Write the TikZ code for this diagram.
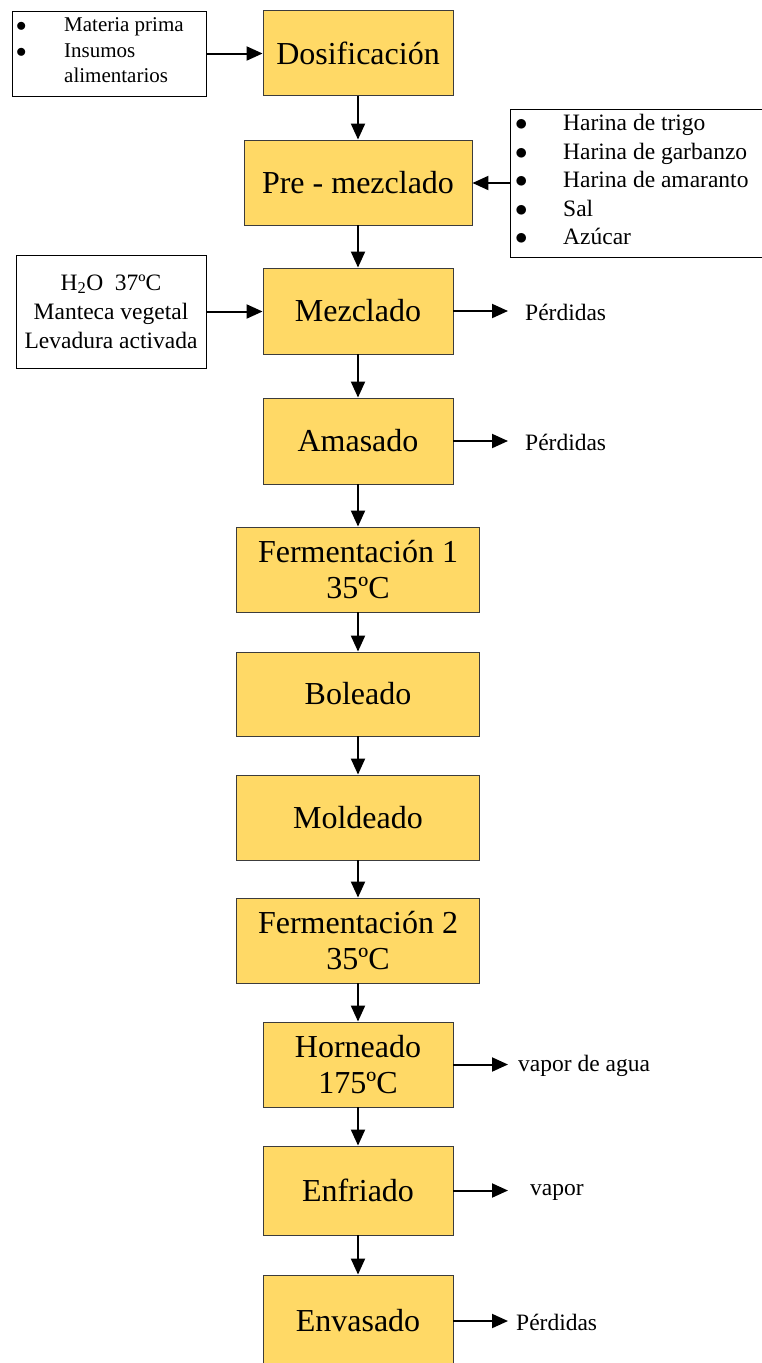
\documentclass[tikz,border=0pt]{standalone}
\usepackage{fontspec}
\setmainfont{Liberation Serif}
\usetikzlibrary{arrows.meta}
\definecolor{stepfill}{RGB}{255,217,102}
\definecolor{stepline}{RGB}{60,60,60}
\newcommand{\listdot}{$\bullet$}

\begin{document}
\begin{tikzpicture}[x=1pt,y=-1pt,
  proc/.style={draw=stepline, fill=stepfill, line width=0.9pt, align=center,
    inner sep=0pt, font=\fontsize{32}{36}\selectfont},
  narrowbox/.style={proc, minimum width=190pt, minimum height=85pt},
  widebox/.style={proc, minimum width=243pt, minimum height=85pt},
  inbox/.style={draw=black, fill=white, line width=0.9pt, inner sep=0pt},
  flow/.style={-{Triangle[length=16pt,width=14pt]}, line width=2pt},
  sidelbl/.style={anchor=west, inner sep=0pt, font=\fontsize{23.5}{26}\selectfont},
]
\useasboundingbox (0,0) rectangle (762,1363);

% main process column
\node[narrowbox] (dos) at (358,53) {Dosificación};
\node[proc, minimum width=228pt, minimum height=85pt] (pre) at (358,182.5) {Pre - mezclado};
\node[narrowbox, minimum height=86pt] (mez) at (358,311) {Mezclado};
\node[narrowbox, minimum height=86pt] (ama) at (358,441) {Amasado};
\node[widebox] (fe1) at (358,569.5) {Fermentación 1\\35ºC};
\node[widebox, minimum height=84pt] (bol) at (358,694) {Boleado};
\node[widebox] (mol) at (358,817.5) {Moldeado};
\node[widebox] (fe2) at (358,940.5) {Fermentación 2\\35ºC};
\node[narrowbox] (hor) at (358,1064.5) {Horneado\\175ºC};
\node[narrowbox, minimum height=89pt] (enf) at (358,1190.5) {Enfriado};
\node[narrowbox, minimum height=92pt] (env) at (358,1321) {Envasado};

% input boxes
\node[inbox, minimum width=194pt, minimum height=85pt] (in1) at (109,53.5) {};
\node[anchor=west, inner sep=0pt, font=\fontsize{21}{25.5}\selectfont] (in1txt) at (16,52)
  {\begin{tabular}{@{}p{48pt}@{}l@{}}\listdot & Materia prima\\ \listdot & Insumos\\ & alimentarios\end{tabular}};

\node[inbox, minimum width=258pt, minimum height=148pt] (in2) at (639,183) {};
\node[anchor=west, inner sep=0pt, font=\fontsize{23.5}{28.5}\selectfont] (in2txt) at (515,182)
  {\begin{tabular}{@{}p{48pt}@{}l@{}}\listdot & Harina de trigo\\ \listdot & Harina de garbanzo\\
   \listdot & Harina de amaranto\\ \listdot & Sal\\ \listdot & Azúcar\end{tabular}};

\node[inbox, minimum width=190pt, minimum height=113pt, align=center,
  font=\fontsize{23.5}{29}\selectfont] (in3) at (111,311.5)
  {H\textsubscript{2}O\enspace 37ºC\\Manteca vegetal\\Levadura activada};

% outputs
\coordinate (o1) at (508,311);
\coordinate (o2) at (508,441);
\coordinate (o3) at (508,1064.5);
\coordinate (o4) at (508,1190.5);
\coordinate (o5) at (508,1321);
\node[sidelbl] (l1) at (525,312) {Pérdidas};
\node[sidelbl] (l2) at (525,442) {Pérdidas};
\node[sidelbl] (l3) at (518,1066) {vapor de agua};
\node[sidelbl] (l4) at (530,1192) {vapor};
\node[sidelbl] (l5) at (516,1322) {Pérdidas};

% connectors
\draw[flow] (dos) -- (pre);
\draw[flow] (pre) -- (mez);
\draw[flow] (mez) -- (ama);
\draw[flow] (ama) -- (fe1);
\draw[flow] (fe1) -- (bol);
\draw[flow] (bol) -- (mol);
\draw[flow] (mol) -- (fe2);
\draw[flow] (fe2) -- (hor);
\draw[flow] (hor) -- (enf);
\draw[flow] (enf) -- (env);

\draw[flow] (in1.east) -- (dos.west |- in1.east);
\draw[flow] (in2.west) -- (pre.east |- in2.west);
\draw[flow] (in3.east) -- (mez.west |- in3.east);

\draw[flow] (mez.east) -- (o1);
\draw[flow] (ama.east) -- (o2);
\draw[flow] (hor.east) -- (o3);
\draw[flow] (enf.east) -- (o4);
\draw[flow] (env.east) -- (o5);
\end{tikzpicture}
\end{document}
